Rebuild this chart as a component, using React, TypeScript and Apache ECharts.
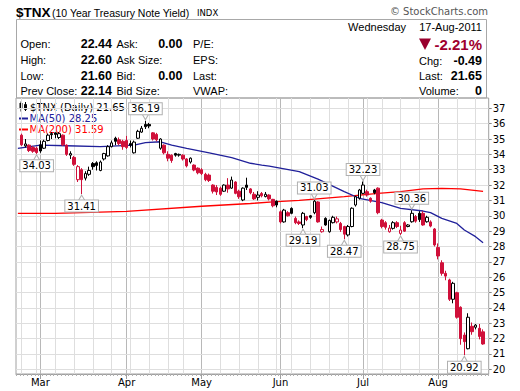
import { useEffect, useRef } from 'react';
import * as echarts from 'echarts';

// ---- data ----
const dates = [
  '2011-02-22','2011-02-23','2011-02-24','2011-02-25','2011-02-28',
  '2011-03-01','2011-03-02','2011-03-03','2011-03-04','2011-03-07','2011-03-08','2011-03-09','2011-03-10','2011-03-11',
  '2011-03-14','2011-03-15','2011-03-16','2011-03-17','2011-03-18','2011-03-21','2011-03-22','2011-03-23','2011-03-24',
  '2011-03-25','2011-03-28','2011-03-29','2011-03-30','2011-03-31',
  '2011-04-01','2011-04-04','2011-04-05','2011-04-06','2011-04-07','2011-04-08','2011-04-11','2011-04-12','2011-04-13',
  '2011-04-14','2011-04-15','2011-04-18','2011-04-19','2011-04-20','2011-04-21','2011-04-25','2011-04-26','2011-04-27',
  '2011-04-28','2011-04-29',
  '2011-05-02','2011-05-03','2011-05-04','2011-05-05','2011-05-06','2011-05-09','2011-05-10','2011-05-11','2011-05-12',
  '2011-05-13','2011-05-16','2011-05-17','2011-05-18','2011-05-19','2011-05-20','2011-05-23','2011-05-24','2011-05-25',
  '2011-05-26','2011-05-27','2011-05-31',
  '2011-06-01','2011-06-02','2011-06-03','2011-06-06','2011-06-07','2011-06-08','2011-06-09','2011-06-10','2011-06-13',
  '2011-06-14','2011-06-15','2011-06-16','2011-06-17','2011-06-20','2011-06-21','2011-06-22','2011-06-23','2011-06-24',
  '2011-06-27','2011-06-28','2011-06-29','2011-06-30',
  '2011-07-01','2011-07-05','2011-07-06','2011-07-07','2011-07-08','2011-07-11','2011-07-12','2011-07-13','2011-07-14',
  '2011-07-15','2011-07-18','2011-07-19','2011-07-20','2011-07-21','2011-07-22','2011-07-25','2011-07-26','2011-07-27',
  '2011-07-28','2011-07-29',
  '2011-08-01','2011-08-02','2011-08-03','2011-08-04','2011-08-05','2011-08-08','2011-08-09','2011-08-10','2011-08-11',
  '2011-08-12','2011-08-15','2011-08-16','2011-08-17'
];

const opens = [
  35.25,34.55,34.60,34.45,34.40,
  34.62,34.40,34.90,35.35,35.40,35.10,35.25,34.60,33.95,33.80,32.35,33.00,32.45,32.70,33.40,33.45,32.95,33.70,33.90,34.50,35.05,34.95,34.85,
  34.90,34.70,34.10,35.05,35.45,35.95,35.95,35.40,35.30,34.40,34.60,34.00,33.95,34.05,33.95,33.95,33.70,33.50,33.30,33.10,
  33.00,32.70,32.65,32.00,31.85,31.80,31.60,32.00,31.80,32.20,31.60,31.03,32.00,31.75,31.40,31.20,31.45,31.25,31.35,31.07,30.95,
  30.26,29.60,30.20,30.48,29.83,29.60,29.40,29.95,30.00,30.20,30.90,28.96,29.83,28.96,29.55,29.60,29.50,29.30,28.75,29.30,30.70,31.15,
  31.46,31.57,31.14,31.68,31.80,29.72,29.55,28.96,29.18,29.55,28.85,29.55,29.30,29.61,29.95,30.16,30.16,29.61,29.60,29.14,
  27.94,26.94,26.25,25.82,24.56,24.99,24.04,22.23,21.34,22.80,22.74,22.67,22.44
];
const highs = [
  35.35,35.00,34.65,34.55,34.50,
  34.90,34.95,35.35,35.45,35.42,35.45,35.30,34.65,34.20,33.90,33.30,33.10,32.90,33.20,33.50,33.55,33.60,34.10,34.60,34.90,35.15,35.10,34.95,
  35.20,34.90,34.90,35.60,35.85,36.19,36.05,35.45,35.40,35.05,34.65,34.20,34.00,34.10,34.05,34.00,33.75,33.80,33.35,33.15,
  33.10,32.80,32.75,32.05,32.00,31.90,32.05,32.45,32.55,32.25,31.70,31.85,32.48,31.80,31.55,31.60,31.55,31.55,31.40,31.10,31.00,
  30.35,30.45,30.30,30.55,29.95,29.70,30.25,30.00,30.05,31.03,30.95,29.30,29.90,29.75,30.00,29.95,29.60,29.35,29.40,30.55,31.30,31.75,
  32.23,31.70,31.20,31.75,31.85,29.80,29.65,29.40,29.65,29.65,29.35,29.65,29.45,30.36,30.05,30.30,30.30,30.00,29.70,29.20,
  28.20,27.10,26.42,25.90,25.70,25.05,24.10,22.40,23.65,23.05,22.95,22.95,22.60
];
const lows = [
  34.55,34.45,34.15,34.10,34.03,
  34.10,34.35,34.85,35.00,35.05,35.00,34.55,33.90,33.70,33.25,32.20,31.41,32.30,32.60,33.00,32.95,32.90,33.60,33.85,34.45,34.60,34.60,34.30,
  34.35,34.45,34.05,35.00,35.40,35.65,35.70,34.90,34.85,34.30,34.00,33.55,33.45,33.85,33.85,33.60,33.15,33.40,32.90,32.70,
  32.65,32.25,32.20,31.45,31.35,31.30,31.55,31.50,31.75,31.40,31.10,30.95,31.68,31.40,31.03,31.00,31.20,31.20,31.00,30.55,30.55,
  29.50,29.55,29.95,30.10,29.45,29.40,29.19,29.65,29.80,30.10,29.55,28.90,29.35,28.90,29.50,29.50,28.95,28.47,28.65,29.25,30.60,31.05,
  31.40,31.25,30.85,31.40,30.10,29.18,29.10,28.90,29.10,29.20,28.75,28.95,29.25,29.55,29.55,29.60,29.35,29.55,29.25,28.00,
  27.16,26.10,25.80,24.45,24.30,23.30,21.60,20.92,21.30,22.25,22.60,21.95,21.60
];
const closes = [
  34.62,34.68,34.25,34.20,34.12,
  34.22,34.85,35.25,35.28,35.30,35.35,34.62,34.00,34.05,33.35,33.20,32.35,32.75,32.95,33.20,33.28,33.50,34.05,34.50,34.75,34.85,34.70,34.50,
  34.45,34.60,34.80,35.50,35.70,35.80,35.85,35.00,34.95,35.00,34.10,33.75,33.60,33.95,34.00,33.70,33.25,33.75,32.98,32.80,
  32.75,32.35,32.30,31.60,31.55,31.40,32.00,31.75,32.33,31.46,31.24,31.80,31.85,31.50,31.10,31.35,31.30,31.40,31.10,30.65,30.70,
  29.60,30.37,30.00,30.16,29.55,29.50,30.16,29.75,29.90,30.95,29.60,29.10,29.40,29.70,29.90,29.80,29.10,28.80,29.30,30.49,31.24,31.68,
  32.00,31.35,30.95,31.50,30.20,29.30,29.25,29.20,29.55,29.30,29.07,29.00,29.40,30.16,29.65,29.75,29.40,29.90,29.33,28.10,
  27.38,26.25,26.07,24.56,25.60,23.39,22.00,21.80,23.39,22.45,22.88,22.14,21.65
];

// moving averages at sample bars: [bar index, value]
const ma50Points = [
  [-1, 34.39], [5, 34.6], [12, 34.56], [21, 34.5], [30, 34.6], [33, 34.76], [37, 34.82], [40, 34.6],
  [44, 34.39], [50, 34.1], [56, 33.78], [61, 33.42], [64, 33.3], [66, 33.24], [74, 32.87], [79, 32.39],
  [86, 31.57], [90, 31.14], [96, 30.85], [101, 30.48], [107, 30.31], [109, 30.2], [112, 29.83],
  [116, 29.5], [118, 29.07], [121, 28.64], [123, 28.25]
];
const ma200Points = [
  [-1, 30.16], [9, 30.16], [28, 30.29], [48, 30.62], [61, 30.8], [67, 30.9], [74, 31.0], [86, 31.25],
  [95, 31.46], [101, 31.57], [107, 31.75], [112, 31.78], [117, 31.75], [123, 31.59]
];

const yTicks = [20, 21, 22, 23, 24, 25, 26, 27, 28, 29, 30, 31, 32, 33, 34, 35, 36, 37];

// swing-point labels: [bar index, which extreme]
const annotations: [number, 'high' | 'low'][] = [
  [4, 'low'], [16, 'low'], [33, 'high'], [75, 'low'], [78, 'high'],
  [86, 'low'], [91, 'high'], [101, 'low'], [104, 'high'], [118, 'low']
];

const quoteAsk = '0.00';
const quoteBid = '0.00';
const quoteVolume = '0';

const MONTHS = ['Jan','Feb','Mar','Apr','May','Jun','Jul','Aug','Sep','Oct','Nov','Dec'];
const DAYS = ['Sunday','Monday','Tuesday','Wednesday','Thursday','Friday','Saturday'];

const RED = '#d0103a';
const NAVY = '#20209a';
const MA_RED = '#ff0000';
const GRID_MAJOR = '#b8b8b8';
const GRID_MINOR = '#dedede';
const HEADER_FONT = '"Liberation Sans", Arial, sans-serif';
const CHART_FONT = '"DejaVu Sans", Verdana, sans-serif';

function parseDate(s: string) {
  const [y, m, d] = s.split('-').map(Number);
  return new Date(y, m - 1, d);
}

export default function App() {
  const ref = useRef<HTMLDivElement>(null);

  useEffect(() => {
    if (!ref.current) return;
    const chart = echarts.init(ref.current, undefined, { renderer: 'svg' });

    const n = dates.length;
    const cats = ['', ...dates, ' '];
    const dObjs = dates.map(parseDate);
    const monthStarts = new Set<string>();
    const weekStarts = new Set<string>();
    dates.forEach((d, i) => {
      if (i > 0 && dObjs[i].getMonth() !== dObjs[i - 1].getMonth()) monthStarts.add(d);
      else if (i === 0 || dObjs[i].getDay() < dObjs[i - 1].getDay()) weekStarts.add(d);
    });

    const candleData: any[] = [['-', '-', '-', '-']];
    for (let i = 0; i < n; i++) {
      const o = opens[i], c = closes[i];
      const prev = i > 0 ? closes[i - 1] : o;
      const col = c < prev ? RED : '#000000';
      const hollow = c > o;
      const fill = hollow ? '#ffffff' : col;
      candleData.push({
        value: [o, c, lows[i], highs[i]],
        itemStyle: { color: fill, color0: fill, borderColor: col, borderColor0: col, borderWidth: 1 }
      });
    }
    candleData.push(['-', '-', '-', '-']);

    const last = n - 1;
    const prevClose = closes[last - 1];
    const chg = closes[last] - prevClose;
    const pct = (chg / prevClose) * 100;
    const lastDate = dObjs[last];
    const dateStr = `${lastDate.getDate()}-${MONTHS[lastDate.getMonth()]}-${lastDate.getFullYear()}`;

    const txt = (text: string, x: number, y: number, font: string, fill = '#000', align = 'left') => ({
      type: 'text', x, y, silent: true,
      style: { text, font, fill, align, verticalAlign: 'middle', textAlign: align, textVerticalAlign: 'middle' }
    });

    const rows = [44, 60, 75.5, 90.5];
    const lab = `11px ${HEADER_FONT}`;
    const val = `bold 12.5px ${HEADER_FONT}`;

    const graphic: any[] = [
      txt('$TNX', 16, 12, `bold 13.5px ${HEADER_FONT}`),
      txt('(10 Year Treasury Note Yield)', 52, 12.5, `10.5px ${HEADER_FONT}`),
      txt('INDX', 197, 12.5, `8.5px ${CHART_FONT}`),
      txt('\u00A9 StockCharts.com', 488, 11.5, `10px ${CHART_FONT}`, '#555', 'right'),
      {
        type: 'rect', silent: true,
        shape: { x: 16.5, y: 19.5, width: 470, height: 78.5 },
        style: { fill: 'none', stroke: '#a8a8a8', lineWidth: 1 }
      },
      txt('Open:', 20.5, rows[0], lab), txt(opens[last].toFixed(2), 112, rows[0], val, '#000', 'right'),
      txt('High:', 20.5, rows[1], lab), txt(highs[last].toFixed(2), 112, rows[1], val, '#000', 'right'),
      txt('Low:', 20.5, rows[2], lab), txt(lows[last].toFixed(2), 112, rows[2], val, '#000', 'right'),
      txt('Prev Close:', 20.5, rows[3], lab), txt(prevClose.toFixed(2), 112, rows[3], val, '#000', 'right'),
      txt('Ask:', 116.5, rows[0], lab), txt(quoteAsk, 182.5, rows[0], val, '#000', 'right'),
      txt('Ask Size:', 116.5, rows[1], lab),
      txt('Bid:', 116.5, rows[2], lab), txt(quoteBid, 182.5, rows[2], val, '#000', 'right'),
      txt('Bid Size:', 116.5, rows[3], lab),
      txt('P/E:', 193, rows[0], lab),
      txt('EPS:', 193, rows[1], lab),
      txt('Last:', 193, rows[2], lab),
      txt('VWAP:', 193, rows[3], lab),
      txt(DAYS[lastDate.getDay()], 406, 27, `11px ${HEADER_FONT}`, '#000', 'right'),
      txt(dateStr, 482, 27, `11px ${HEADER_FONT}`, '#000', 'right'),
      {
        type: 'polygon', silent: true,
        shape: { points: [[419, 38.5], [431, 38.5], [425, 50]] },
        style: { fill: '#99002e' }
      },
      txt(`${pct.toFixed(2)}%`, 482, 44.5, `bold 15px ${HEADER_FONT}`, '#a0002e', 'right'),
      txt('Chg:', 419, 61, lab), txt(chg.toFixed(2), 482, 61, val, '#000', 'right'),
      txt('Last:', 419, 76, lab), txt(closes[last].toFixed(2), 482, 76, val, '#000', 'right'),
      txt('Volume:', 419, 91, lab), txt(quoteVolume, 482, 91, val, '#000', 'right'),
      // legend inside plot
      { type: 'rect', silent: true, shape: { x: 19.5, y: 103, width: 3, height: 6 }, style: { fill: '#000' } },
      { type: 'line', silent: true, shape: { x1: 21, y1: 101.5, x2: 21, y2: 111.5 }, style: { stroke: '#000', lineWidth: 1 } },
      { type: 'rect', silent: true, shape: { x: 24.5, y: 104.5, width: 2, height: 5 }, style: { fill: '#fff', stroke: '#000', lineWidth: 1 } },
      { type: 'line', silent: true, shape: { x1: 25.5, y1: 102, x2: 25.5, y2: 111 }, style: { stroke: '#000', lineWidth: 1 } },
      txt(`$TNX (Daily) ${closes[last].toFixed(2)}`, 30, 107, `10px ${CHART_FONT}`),
      { type: 'line', silent: true, shape: { x1: 19, y1: 118.5, x2: 28, y2: 118.5 }, style: { stroke: NAVY, lineWidth: 2 } },
      txt(`MA(50) ${ma50Points[ma50Points.length - 1][1].toFixed(2)}`, 29.5, 118.5, `10px ${CHART_FONT}`, NAVY),
      { type: 'line', silent: true, shape: { x1: 19, y1: 129.5, x2: 28, y2: 129.5 }, style: { stroke: MA_RED, lineWidth: 2 } },
      txt(`MA(200) ${ma200Points[ma200Points.length - 1][1].toFixed(2)}`, 29.5, 129.5, `10px ${CHART_FONT}`, MA_RED)
    ];

    const gridLines: any[] = [];
    dates.forEach((d) => {
      if (monthStarts.has(d)) gridLines.push({ xAxis: d, lineStyle: { color: GRID_MAJOR, width: 1, type: 'solid' } });
      else if (weekStarts.has(d)) gridLines.push({ xAxis: d, lineStyle: { color: GRID_MINOR, width: 1, type: 'solid' } });
    });
    yTicks.forEach((v) => gridLines.push({ yAxis: v, lineStyle: { color: GRID_MINOR, width: 1, type: 'solid' } }));

    const labelBox = {
      color: '#000', fontSize: 10, fontFamily: CHART_FONT, backgroundColor: '#fff',
      borderColor: '#b0b0b0', borderWidth: 1, padding: [0, 2, 0, 2], lineHeight: 11
    };

    const option: any = {
      animation: false,
      backgroundColor: '#fff',
      textStyle: { fontFamily: CHART_FONT },
      grid: { left: 16, right: 31.3, top: 98, bottom: 17, show: true, borderColor: '#a0a0a0', borderWidth: 1, backgroundColor: 'transparent' },
      xAxis: [
        {
          type: 'category', data: cats, boundaryGap: true,
          axisLine: { show: true, lineStyle: { color: '#a0a0a0' } },
          axisTick: { show: true, alignWithLabel: true, length: 5, lineStyle: { color: '#a0a0a0' }, interval: (_i: number, v: string) => monthStarts.has(v) },
          axisLabel: {
            show: true, interval: (_i: number, v: string) => monthStarts.has(v), margin: 3,
            color: '#000', fontSize: 10, fontFamily: CHART_FONT,
            formatter: (v: string) => (monthStarts.has(v) ? MONTHS[parseDate(v).getMonth()] : '')
          },
          splitLine: { show: false }
        },
        {
          type: 'category', data: cats, boundaryGap: true, position: 'bottom',
          axisLine: { show: false },
          axisTick: { show: true, interval: 0, length: 2, lineStyle: { color: '#b0b0b0' } },
          axisLabel: { show: false },
          splitLine: { show: false }
        }
      ],
      yAxis: {
        type: 'value', position: 'right', min: 19.694, max: 37.671, scale: true,
        axisLine: { show: false },
        axisTick: { show: true, length: 3, customValues: yTicks, lineStyle: { color: '#888' } },
        axisLabel: { show: true, customValues: yTicks, margin: 4, color: '#000', fontSize: 10, fontFamily: CHART_FONT },
        splitLine: { show: false }
      },
      graphic,
      series: [
        {
          type: 'line', name: 'grid', data: [], z: 1, silent: true,
          markLine: { silent: true, z: 1, symbol: ['none', 'none'], label: { show: false }, animation: false, data: gridLines }
        },
        {
          type: 'line', name: 'MA200', data: ma200Points.map(([i, v]) => [i + 1, v]), showSymbol: false, z: 4,
          lineStyle: { color: MA_RED, width: 1.3 }, silent: true
        },
        {
          type: 'line', name: 'MA50', data: ma50Points.map(([i, v]) => [i + 1, v]), showSymbol: false, z: 4,
          lineStyle: { color: NAVY, width: 1.3 }, silent: true
        },
        {
          type: 'candlestick', name: '$TNX', data: candleData, barWidth: 3, z: 5, silent: true,
          markPoint: {
            z: 8, silent: true, animation: false,
            data: annotations.map(([i, kind]) => {
              const low = kind === 'low';
              const v = low ? lows[i] : highs[i];
              return {
                coord: [dates[i], v],
                value: v,
                symbol: 'triangle',
                symbolSize: [7, 6],
                symbolRotate: low ? 0 : 180,
                symbolOffset: [0, low ? 4 : -4],
                itemStyle: { color: '#fff', borderColor: '#b0b0b0', borderWidth: 1 },
                label: { show: true, position: low ? 'bottom' : 'top', distance: -1, formatter: v.toFixed(2), ...labelBox }
              };
            })
          }
        }
      ]
    };

    chart.setOption(option);
    return () => chart.dispose();
  }, []);

  return <div ref={ref} style={{ position: 'fixed', left: 0, top: 0, width: 520, height: 391, background: '#fff' }} />;
}
